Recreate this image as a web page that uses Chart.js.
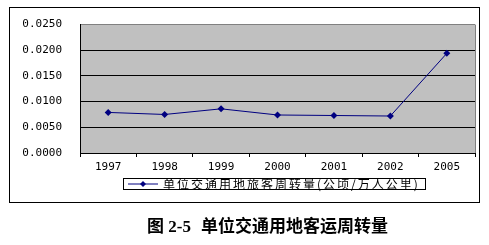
<!DOCTYPE html>
<html>
<head>
<meta charset="utf-8">
<script src="https://cdn.jsdelivr.net/npm/chart.js@4/dist/chart.umd.min.js"></script>
<style>
  body { margin: 0; background: #fff; }
  #box { position: absolute; left: 0; top: 0; width: 489px; height: 245px; }
  #legend {
    position: absolute; left: 123px; top: 178px; width: 303px; height: 12px;
    border: 1px solid #000; box-sizing: border-box;
    font: 12px "Noto Sans CJK SC", sans-serif; letter-spacing: 2px;
    line-height: 10px; white-space: nowrap; color: #000;
  }
  #legend svg { position: absolute; left: 4px; top: 0px; }
  #legend span { position: absolute; left: 39px; top: 0px; }
  .title { position: absolute; top: 212px; font: bold 17px "Liberation Serif", "Noto Sans CJK SC", serif; white-space: pre; color: #000; }
</style>
</head>
<body>
<div id="box"><canvas id="chart" width="489" height="245"></canvas></div>
<div id="legend">
  <svg width="32" height="10"><line x1="0" y1="5" x2="30" y2="5" stroke="#000080" stroke-width="1"/><polygon points="15,2 18,5 15,8 12,5" fill="#000080"/></svg>
  <span>单位交通用地旅客周转量(公顷/万人公里)</span>
</div>
<div class="title" style="left:147px">图 2-5</div>
<div class="title" style="left:201px">单位交通用地客运周转量</div>
<script>
const years = ['1997', '1998', '1999', '2000', '2001', '2002', '2005'];
const landUse = [0.0079, 0.0075, 0.0086, 0.0074, 0.0073, 0.0072, 0.0194];
const yTicks = [0, 0.005, 0.01, 0.015, 0.02, 0.025];

// gray plot background, gray top/right edge and the outer frame
const framePlugin = {
    id: 'framePlugin',
    beforeDraw: function(chart) {
        const ctx = chart.ctx;
        const a = chart.chartArea;
        ctx.save();
        ctx.fillStyle = '#c0c0c0';
        ctx.fillRect(a.left, a.top, a.right - a.left, a.bottom - a.top);
        ctx.strokeStyle = '#000';
        ctx.lineWidth = 1;
        ctx.strokeRect(9.5, 7.5, 470, 195);
        ctx.restore();
    },
    afterDraw: function(chart) {
        const ctx = chart.ctx;
        const a = chart.chartArea;
        ctx.save();
        ctx.strokeStyle = '#808080';
        ctx.lineWidth = 1;
        ctx.beginPath();
        ctx.moveTo(Math.round(a.right) + 0.5, a.top);
        ctx.lineTo(Math.round(a.right) + 0.5, a.bottom);
        ctx.stroke();
        ctx.restore();
    }
};

const tickFont = { family: 'DejaVu Sans Mono', size: 11 };

new Chart(document.getElementById('chart').getContext('2d'), {
    type: 'line',
    plugins: [framePlugin],
    data: {
        labels: years,
        datasets: [{
            label: '单位交通用地旅客周转量(公顷/万人公里)',
            data: landUse,
            borderColor: '#000080',
            backgroundColor: '#000080',
            borderWidth: 1,
            pointStyle: 'rectRot',
            pointRadius: 3.5,
            pointBorderWidth: 0,
            tension: 0,
            fill: false
        }]
    },
    options: {
        responsive: false,
        animation: false,
        layout: { padding: { top: 23, right: 14, left: 0, bottom: 0 } },
        plugins: {
            legend: { display: false },
            tooltip: { enabled: false }
        },
        scales: {
            x: {
                offset: true,
                grid: { drawOnChartArea: false, drawTicks: true, tickLength: 4, color: '#000', offset: true },
                border: { color: '#000', width: 1 },
                ticks: { color: '#000', font: tickFont, padding: 4, maxRotation: 0 },
                afterFit: function(scale) { scale.height = 92; }
            },
            y: {
                min: 0,
                max: 0.025,
                afterBuildTicks: function(scale) { scale.ticks = yTicks.map(v => ({ value: v })); },
                grid: {
                    drawTicks: false,
                    color: ctx => ctx.tick && ctx.tick.value === 0.025 ? '#808080' : '#000'
                },
                border: { color: '#000', width: 1 },
                ticks: {
                    color: '#000', font: tickFont, padding: 18,
                    callback: v => v.toFixed(4)
                },
                afterFit: function(scale) { scale.width = 80; }
            }
        }
    }
});
</script>
</body>
</html>
